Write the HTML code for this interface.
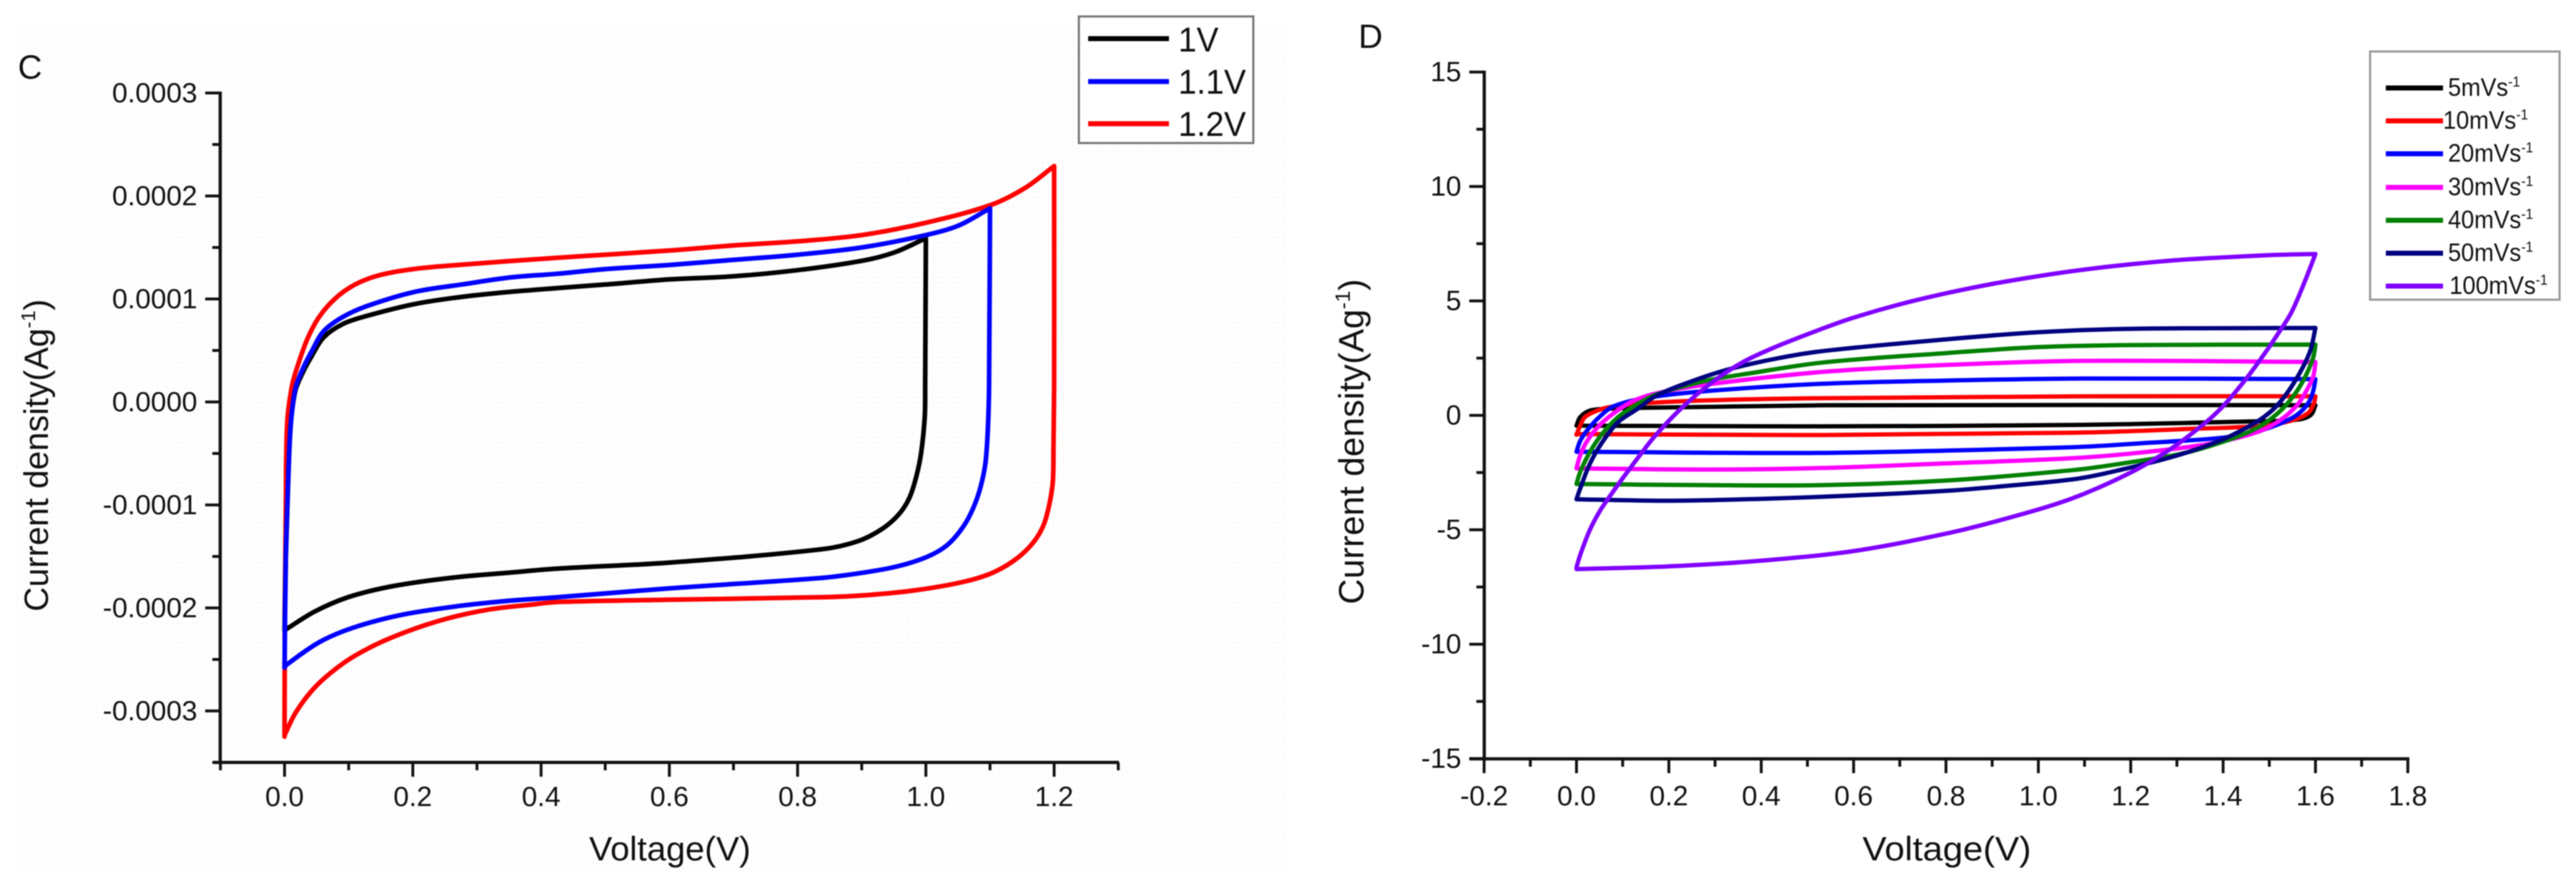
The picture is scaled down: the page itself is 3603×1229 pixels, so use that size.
<!DOCTYPE html>
<html lang="en">
<head>
<meta charset="utf-8">
<title>Cyclic voltammetry charts C and D</title>
<style>
html,body{margin:0;padding:0;background:#fff;}
#figure{display:block;width:3603px;height:1229px;filter:blur(0.7px);font-family:"Liberation Sans",Arial,sans-serif;}
text{fill:#111;font-family:"Liberation Sans",Arial,sans-serif;}
.tick{font-size:39px;}
.ttl{font-size:47px;}
.lgc{font-size:48px;}
.lgd{font-size:35px;}
.lgd tspan.s{font-size:20px;}
</style>
</head>
<body>
<svg id="figure" xmlns="http://www.w3.org/2000/svg" width="3603" height="1229" viewBox="0 0 3603 1229">
  <defs>
    <pattern id="dots" width="7" height="7" patternUnits="userSpaceOnUse">
      <rect width="7" height="7" fill="#fefefe"/>
      <circle cx="3" cy="3" r="1.2" fill="#f8f8f4"/>
    </pattern>
  </defs>
  <rect x="0" y="0" width="3603" height="1229" fill="#ffffff"/>
  <rect x="20" y="36" width="1780" height="1185" fill="url(#dots)"/>

  <!-- Panel C -->
  <g id="panel-c">
    <text x="25" y="110" font-size="47">C</text>
    <g id="c-axes"></g>
    <g id="c-curves"></g>
    <text x="824" y="1203" class="ttl" textLength="226" lengthAdjust="spacingAndGlyphs">Voltage(V)</text>
    <text transform="translate(67,855) rotate(-90)" font-size="47.5">Current density(Ag<tspan font-size="28" dy="-18">-1</tspan><tspan dy="18">)</tspan></text>
    <g>
      <rect x="1509" y="23" width="244" height="177" fill="#ffffff" stroke="#777" stroke-width="3"/>
      <line x1="1522" y1="54" x2="1635" y2="54" stroke="#000" stroke-width="7"/>
      <line x1="1522" y1="114" x2="1635" y2="114" stroke="#0000ff" stroke-width="7"/>
      <line x1="1522" y1="173" x2="1635" y2="173" stroke="#ff0000" stroke-width="7"/>
      <text transform="translate(1648,72) scale(.96,1)" class="lgc">1V</text>
      <text transform="translate(1648,131) scale(.96,1)" class="lgc">1.1V</text>
      <text transform="translate(1648,190) scale(.96,1)" class="lgc">1.2V</text>
    </g>
  </g>

  <!-- Panel D -->
  <g id="panel-d">
    <text x="1900" y="67" font-size="47">D</text>
    <g id="d-axes"></g>
    <g id="d-curves"></g>
    <text x="2605" y="1203" class="ttl" textLength="236" lengthAdjust="spacingAndGlyphs">Voltage(V)</text>
    <text transform="translate(1907,845) rotate(-90)" font-size="49.5">Current density(Ag<tspan font-size="29" dy="-19">-1</tspan><tspan dy="19">)</tspan></text>
    <g>
      <rect x="3315" y="72" width="265" height="347" fill="#ffffff" stroke="#999" stroke-width="3"/>
      <line x1="3337" y1="123" x2="3417" y2="123" stroke="#000" stroke-width="7"/>
      <line x1="3337" y1="169" x2="3417" y2="169" stroke="#ff0000" stroke-width="7"/>
      <line x1="3337" y1="215" x2="3417" y2="215" stroke="#0000ff" stroke-width="7"/>
      <line x1="3337" y1="262" x2="3417" y2="262" stroke="#ff00ff" stroke-width="7"/>
      <line x1="3337" y1="308" x2="3417" y2="308" stroke="#008000" stroke-width="7"/>
      <line x1="3337" y1="354" x2="3417" y2="354" stroke="#000080" stroke-width="7"/>
      <line x1="3337" y1="400" x2="3417" y2="400" stroke="#8000ff" stroke-width="7"/>
      <text transform="translate(3424,134) scale(.94,1)" class="lgd">5mVs<tspan class="s" dy="-13">-1</tspan></text>
      <text transform="translate(3417,180) scale(.94,1)" class="lgd">10mVs<tspan class="s" dy="-13">-1</tspan></text>
      <text transform="translate(3424,226) scale(.94,1)" class="lgd">20mVs<tspan class="s" dy="-13">-1</tspan></text>
      <text transform="translate(3424,273) scale(.94,1)" class="lgd">30mVs<tspan class="s" dy="-13">-1</tspan></text>
      <text transform="translate(3424,319) scale(.94,1)" class="lgd">40mVs<tspan class="s" dy="-13">-1</tspan></text>
      <text transform="translate(3424,365) scale(.94,1)" class="lgd">50mVs<tspan class="s" dy="-13">-1</tspan></text>
      <text transform="translate(3426,411) scale(.94,1)" class="lgd">100mVs<tspan class="s" dy="-13">-1</tspan></text>
    </g>
  </g>
</svg>

<script>
// ---- Panel C data (current in units of 1e-4 A/g) ----
const cXTickValues = [0, 0.2, 0.4, 0.6, 0.8, 1.0, 1.2];
const cXTickLabels = ['0.0', '0.2', '0.4', '0.6', '0.8', '1.0', '1.2'];
const cXMinorValues = [-0.1, 0.1, 0.3, 0.5, 0.7, 0.9, 1.1, 1.3];
const cYTickValues = [3, 2, 1, 0, -1, -2, -3];
const cYTickLabels = ['0.0003', '0.0002', '0.0001', '0.0000', '-0.0001', '-0.0002', '-0.0003'];
const cYMinorValues = [2.5, 1.5, 0.5, -0.5, -1.5, -2.5, -3.5];

const c12ForwardV = [0, 0.0005, 0.002, 0.004, 0.0115, 0.021, 0.036, 0.054, 0.08, 0.11, 0.147, 0.203, 0.277, 0.351, 0.426, 0.5, 0.6, 0.7, 0.8, 0.9, 1.0, 1.1, 1.154, 1.2];
const c12ForwardI = [-3.25, -2, -1, -0.215, 0.153, 0.361, 0.618, 0.826, 1.01, 1.14, 1.229, 1.292, 1.333, 1.368, 1.40, 1.43, 1.47, 1.52, 1.56, 1.62, 1.74, 1.91, 2.075, 2.29];
const c12ReverseV = [1.2, 1.2, 1.199, 1.198, 1.193, 1.184, 1.169, 1.143, 1.106, 1.061, 0.987, 0.913, 0.838, 0.6, 0.426, 0.389, 0.314, 0.24, 0.166, 0.11, 0.073, 0.043, 0.017, 0];
const c12ReverseI = [2.29, 0.153, -0.449, -0.771, -0.979, -1.188, -1.352, -1.514, -1.653, -1.743, -1.826, -1.873, -1.896, -1.92, -1.942, -1.965, -2.02, -2.127, -2.29, -2.463, -2.625, -2.8, -3.02, -3.236];

const c11ForwardV = [0, 0.002, 0.006, 0.0097, 0.017, 0.028, 0.043, 0.061, 0.091, 0.128, 0.203, 0.277, 0.351, 0.426, 0.5, 0.6, 0.7, 0.8, 0.9, 1.0, 1.05, 1.1];
const c11ForwardI = [-2.58, -1.5, -0.7, -0.215, 0.132, 0.315, 0.5, 0.687, 0.826, 0.93, 1.069, 1.141, 1.208, 1.245, 1.29, 1.33, 1.38, 1.43, 1.50, 1.62, 1.71, 1.88];
const c11ReverseV = [1.1, 1.0985, 1.0966, 1.093, 1.0855, 1.074, 1.058, 1.032, 0.998, 0.95, 0.894, 0.838, 0.6, 0.426, 0.351, 0.277, 0.181, 0.106, 0.054, 0.0022, 0];
const c11ReverseI = [1.88, 0.153, -0.264, -0.588, -0.82, -1.028, -1.213, -1.396, -1.514, -1.604, -1.665, -1.708, -1.81, -1.896, -1.93, -1.977, -2.069, -2.194, -2.333, -2.556, -2.58];

const c10ForwardV = [0, 0.002, 0.006, 0.0097, 0.017, 0.028, 0.043, 0.061, 0.091, 0.128, 0.203, 0.277, 0.351, 0.426, 0.5, 0.6, 0.7, 0.8, 0.9, 0.95, 1.0];
const c10ForwardI = [-2.22, -1.5, -0.7, -0.215, 0.11, 0.28, 0.453, 0.627, 0.757, 0.835, 0.951, 1.021, 1.069, 1.106, 1.14, 1.19, 1.22, 1.28, 1.37, 1.45, 1.59];
const c10ReverseV = [1, 0.9989, 0.9982, 0.9926, 0.985, 0.974, 0.957, 0.931, 0.894, 0.838, 0.6, 0.426, 0.351, 0.259, 0.166, 0.099, 0.047, 0.0022];
const c10ReverseI = [1.59, 0.153, -0.146, -0.493, -0.727, -0.935, -1.097, -1.236, -1.352, -1.43, -1.56, -1.618, -1.657, -1.708, -1.792, -1.896, -2.035, -2.208];

// ---- Panel D data (current in A/g) ----
const dXTickValues = [-0.2, 0, 0.2, 0.4, 0.6, 0.8, 1.0, 1.2, 1.4, 1.6, 1.8];
const dXTickLabels = ['-0.2', '0.0', '0.2', '0.4', '0.6', '0.8', '1.0', '1.2', '1.4', '1.6', '1.8'];
const dXMinorValues = [-0.1, 0.1, 0.3, 0.5, 0.7, 0.9, 1.1, 1.3, 1.5, 1.7];
const dYTickValues = [15, 10, 5, 0, -5, -10, -15];
const dYTickLabels = ['15', '10', '5', '0', '-5', '-10', '-15'];
const dYMinorValues = [12.5, 7.5, 2.5, -2.5, -7.5, -12.5];

const d5ForwardV = [0, 0.008, 0.028, 0.06, 0.147, 0.534, 1.1, 1.6];
const d5ForwardI = [-0.45, -0.08, 0.2, 0.28, 0.33, 0.44, 0.45, 0.44];
const d5ReverseV = [1.6, 1.59, 1.56, 1.457, 1.077, 0.5, 0];
const d5ReverseI = [0.44, 0.02, -0.19, -0.27, -0.42, -0.48, -0.45];

const d10ForwardV = [0, 0.007, 0.018, 0.044, 0.07, 0.12, 0.276, 0.534, 1.1, 1.6];
const d10ForwardI = [-0.85, -0.5, -0.08, 0.2, 0.35, 0.49, 0.65, 0.75, 0.83, 0.83];
const d10ReverseV = [1.6, 1.597, 1.585, 1.553, 1.49, 1.318, 1.077, 0.534, 0];
const d10ReverseI = [0.83, 0.55, 0.12, -0.2, -0.45, -0.6, -0.76, -0.86, -0.82];

const d20ForwardV = [0, 0.008, 0.023, 0.049, 0.08, 0.147, 0.276, 0.534, 0.8, 1.1, 1.6];
const d20ForwardI = [-1.59, -1.12, -0.66, -0.08, 0.39, 0.75, 1.05, 1.38, 1.52, 1.61, 1.58];
const d20ReverseV = [1.6, 1.595, 1.585, 1.56, 1.52, 1.463, 1.388, 1.215, 1.077, 0.534, 0];
const d20ReverseI = [1.58, 1.06, 0.55, 0.02, -0.39, -0.76, -1, -1.23, -1.39, -1.64, -1.59];

const d30ForwardV = [0, 0.008, 0.023, 0.049, 0.08, 0.12, 0.173, 0.276, 0.534, 0.8, 1.1, 1.6];
const d30ForwardI = [-2.32, -1.75, -1.12, -0.45, 0.08, 0.6, 0.96, 1.33, 1.9, 2.2, 2.38, 2.33];
const d30ReverseV = [1.6, 1.595, 1.58, 1.56, 1.525, 1.478, 1.374, 1.215, 1.077, 0.8, 0.534, 0.3, 0];
const d30ReverseI = [2.31, 1.69, 1.06, 0.44, -0.19, -0.7, -1.23, -1.64, -1.87, -2.1, -2.3, -2.37, -2.32];

const d40ForwardV = [0, 0.008, 0.028, 0.054, 0.09, 0.132, 0.173, 0.276, 0.38, 0.534, 0.8, 1.0, 1.2, 1.6];
const d40ForwardI = [-3, -2.48, -1.64, -0.85, -0.08, 0.49, 0.91, 1.49, 1.85, 2.31, 2.72, 2.98, 3.07, 3.09];
const d40ReverseV = [1.6, 1.595, 1.578, 1.553, 1.52, 1.478, 1.422, 1.318, 1.18, 1.077, 0.8, 0.534, 0.276, 0];
const d40ReverseI = [3.09, 2.52, 1.69, 0.86, 0.12, -0.5, -1, -1.64, -2.11, -2.39, -2.85, -3.05, -3.05, -3];

const d50ForwardV = [0, 0.008, 0.028, 0.054, 0.09, 0.132, 0.173, 0.25, 0.328, 0.43, 0.534, 0.8, 1.0, 1.2, 1.6];
const d50ForwardI = [-3.67, -3.2, -2.16, -1.23, -0.3, 0.28, 0.86, 1.49, 2, 2.47, 2.81, 3.32, 3.63, 3.78, 3.82];
const d50ReverseV = [1.6, 1.59, 1.574, 1.548, 1.52, 1.49, 1.45, 1.388, 1.284, 1.146, 1.077, 0.95, 0.8, 0.6, 0.4, 0.2, 0];
const d50ReverseI = [3.82, 2.9, 2.15, 1.25, 0.5, -0.05, -0.55, -1.15, -1.85, -2.53, -2.79, -3.05, -3.3, -3.5, -3.65, -3.73, -3.67];

const d100ForwardV = [0, 0.008, 0.028, 0.05, 0.07, 0.1, 0.137, 0.168, 0.224, 0.291, 0.358, 0.43, 0.534, 0.6, 0.7, 0.8, 0.9, 1, 1.1, 1.2, 1.3, 1.4, 1.5, 1.6];
const d100ForwardI = [-6.64, -6.1, -5.05, -4.2, -3.6, -2.75, -1.75, -0.95, 0.25, 1.4, 2.3, 2.98, 3.8, 4.27, 4.85, 5.33, 5.74, 6.08, 6.37, 6.6, 6.78, 6.9, 7.0, 7.05];
const d100ReverseV = [1.6, 1.575, 1.548, 1.52, 1.49, 1.45, 1.4, 1.354, 1.284, 1.2, 1.077, 0.95, 0.8, 0.6, 0.4, 0.2, 0];
const d100ReverseI = [7.05, 5.75, 4.5, 3.6, 2.7, 1.6, 0.4, -0.45, -1.5, -2.5, -3.6, -4.4, -5.17, -5.93, -6.35, -6.6, -6.72];

// ---- Axis functions ----
const cX = v => 398 + 897 * v;
const cY = i => 562 - 144 * i;
const dX = v => 2205 + 646 * v;
const dY = i => 580.7 - 32 * i;

const SVG_NS = 'http://www.w3.org/2000/svg';

function smoothBranch(vs, is, xf, yf, first) {
  const pts = vs.map((v, k) => [xf(v), yf(is[k])]);
  let d = (first ? 'M' : 'L') + pts[0][0].toFixed(1) + ' ' + pts[0][1].toFixed(1);
  const dist = (a, b) => Math.hypot(a[0] - b[0], a[1] - b[1]) || 0.001;
  const tangent = (k, toNext) => {
    const p = pts[k];
    const a = pts[Math.max(k - 1, 0)];
    const b = pts[Math.min(k + 1, pts.length - 1)];
    const da = dist(p, a);
    const db = dist(p, b);
    const seg = toNext ? db : da;
    const t = seg / (da + db) / 3;
    return [(b[0] - a[0]) * t, (b[1] - a[1]) * t];
  };
  for (let k = 0; k < pts.length - 1; k++) {
    const t0 = tangent(k, true);
    const t1 = tangent(k + 1, false);
    const c1 = [pts[k][0] + t0[0], pts[k][1] + t0[1]];
    const c2 = [pts[k + 1][0] - t1[0], pts[k + 1][1] - t1[1]];
    d += 'C' + c1[0].toFixed(1) + ' ' + c1[1].toFixed(1) + ' ' + c2[0].toFixed(1) + ' ' + c2[1].toFixed(1) + ' ' + pts[k + 1][0].toFixed(1) + ' ' + pts[k + 1][1].toFixed(1);
  }
  return d;
}

function drawCurve(groupId, name, color, width, fv, fi, rv, ri, xf, yf) {
  const el = document.createElementNS(SVG_NS, 'path');
  el.setAttribute('d', smoothBranch(fv, fi, xf, yf, true) + smoothBranch(rv, ri, xf, yf, false));
  el.setAttribute('fill', 'none');
  el.setAttribute('stroke', color);
  el.setAttribute('stroke-width', width);
  el.setAttribute('stroke-linejoin', 'round');
  el.setAttribute('stroke-linecap', 'round');
  
  
  document.getElementById(groupId).appendChild(el);
}

function drawLine(group, name, x1, y1, x2, y2, width) {
  const el = document.createElementNS(SVG_NS, 'line');
  el.setAttribute('x1', x1);
  el.setAttribute('y1', y1);
  el.setAttribute('x2', x2);
  el.setAttribute('y2', y2);
  el.setAttribute('stroke', '#111');
  el.setAttribute('stroke-width', width);
  
  
  group.appendChild(el);
}

function drawLabel(group, name, x, y, anchor, label) {
  const el = document.createElementNS(SVG_NS, 'text');
  el.setAttribute('x', x);
  el.setAttribute('y', y);
  el.setAttribute('text-anchor', anchor);
  el.setAttribute('class', 'tick');
  el.textContent = label;
  
  
  group.appendChild(el);
}

function drawAxes(groupId, prefix, xf, yf, xT, xL, xM, yT, yL, yM, axisX, axisY, topY, leftTickX, rightX, labelBase) {
  const g = document.getElementById(groupId);
  drawLine(g, prefix + '-y-axis-line', axisX, topY - 2, axisX, axisY + 2, 4.5);
  drawLine(g, prefix + '-x-axis-line', leftTickX, axisY, rightX, axisY, 4.5);
  xT.forEach((v, k) => {
    drawLine(g, prefix + '-x-major-tick', xf(v), axisY, xf(v), axisY + 20, 4);
    drawLabel(g, prefix + '-x-tick-label', xf(v), labelBase, 'middle', xL[k]);
  });
  xM.forEach(v => {
    drawLine(g, prefix + '-x-minor-tick', xf(v), axisY, xf(v), axisY + 11, 4);
  });
  yT.forEach((v, k) => {
    drawLine(g, prefix + '-y-major-tick', axisX - 21, yf(v), axisX, yf(v), 4);
    drawLabel(g, prefix + '-y-tick-label', axisX - 32, yf(v) + 13, 'end', yL[k]);
  });
  yM.forEach(v => {
    drawLine(g, prefix + '-y-minor-tick', axisX - 11, yf(v), axisX, yf(v), 4);
  });
}

drawAxes('c-axes', 'panel-c', cX, cY, cXTickValues, cXTickLabels, cXMinorValues, cYTickValues, cYTickLabels, cYMinorValues, 308, 1066, 130, 298, 1565, 1127);
drawAxes('d-axes', 'panel-d', dX, dY, dXTickValues, dXTickLabels, dXMinorValues, dYTickValues, dYTickLabels, dYMinorValues, 2076, 1061, 100.7, 2055, 3370, 1126);

drawCurve('c-curves', 'curve-1-2v', '#ff0000', 6.5, c12ForwardV, c12ForwardI, c12ReverseV, c12ReverseI, cX, cY);
drawCurve('c-curves', 'curve-1v', '#000000', 6.5, c10ForwardV, c10ForwardI, c10ReverseV, c10ReverseI, cX, cY);
drawCurve('c-curves', 'curve-1-1v', '#0000ff', 6.5, c11ForwardV, c11ForwardI, c11ReverseV, c11ReverseI, cX, cY);

drawCurve('d-curves', 'curve-5mvs', '#000000', 6, d5ForwardV, d5ForwardI, d5ReverseV, d5ReverseI, dX, dY);
drawCurve('d-curves', 'curve-10mvs', '#ff0000', 6, d10ForwardV, d10ForwardI, d10ReverseV, d10ReverseI, dX, dY);
drawCurve('d-curves', 'curve-20mvs', '#0000ff', 6, d20ForwardV, d20ForwardI, d20ReverseV, d20ReverseI, dX, dY);
drawCurve('d-curves', 'curve-30mvs', '#ff00ff', 6, d30ForwardV, d30ForwardI, d30ReverseV, d30ReverseI, dX, dY);
drawCurve('d-curves', 'curve-40mvs', '#008000', 6, d40ForwardV, d40ForwardI, d40ReverseV, d40ReverseI, dX, dY);
drawCurve('d-curves', 'curve-50mvs', '#000080', 6, d50ForwardV, d50ForwardI, d50ReverseV, d50ReverseI, dX, dY);
drawCurve('d-curves', 'curve-100mvs', '#8000ff', 6, d100ForwardV, d100ForwardI, d100ReverseV, d100ReverseI, dX, dY);
</script>
</body>
</html>
